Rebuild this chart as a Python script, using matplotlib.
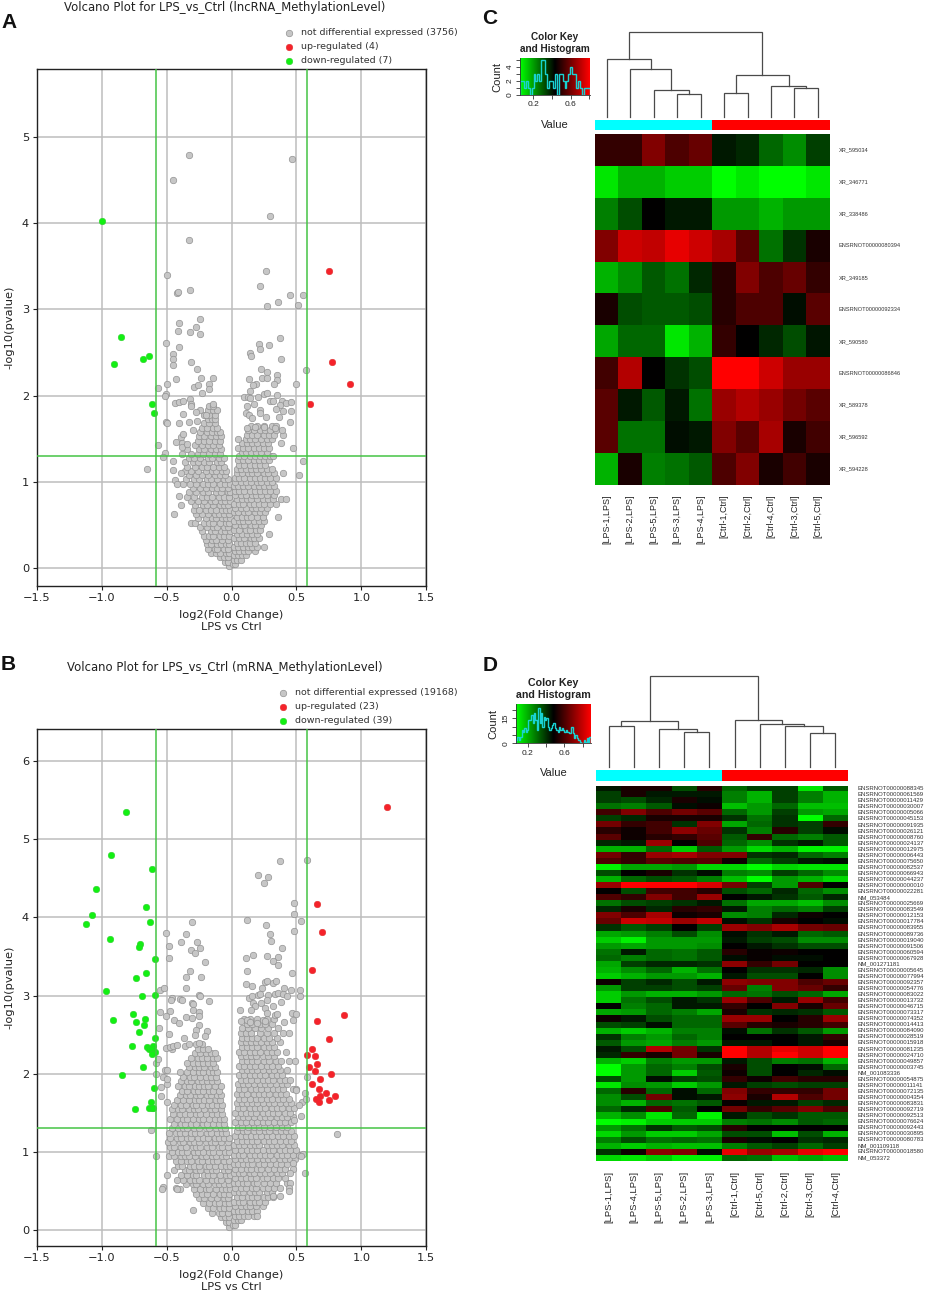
import numpy as np
import matplotlib
matplotlib.use('Agg')
import matplotlib.pyplot as plt
from matplotlib.colors import LinearSegmentedColormap

W, H = 927, 1295

# -----------------------------------------------------------------------------
# VOLCANO A
# -----------------------------------------------------------------------------
a_up_x = [.752, .773, .911, .603]
a_up_y = [3.45, 2.39, 2.135, 1.90]
a_down_x = [-.994, -.85, -.906, -.685, -.639, -.614, -.60]
a_down_y = [4.02, 2.68, 2.37, 2.42, 2.46, 1.90, 1.80]

a_sparse_x = [-.326, -.452, .467, .295, -.326, -.495, .262, .218, -.318, -.416, -.414, .452, .549, .359, .513, .275,
              -.241, -.408, -.275, -.413, -.323, -.241, -.503, -.406, -.454, -.447, -.452, -.311, -.264, -.234,
              -.141, -.424, -.50, -.565, -.288, -.257, -.175, -.177, -.226, -.506, -.513, -.318, -.311, -.313,
              -.434, -.406, -.375, -.141, -.241, -.275, -.377, -.2, -.331, -.267, -.508, -.493, -.406, -.293,
              -.39, -.37, -.565, -.424, -.385, -.383, -.345, -.513, -.524, -.454, -.652, -.454, -.39, -.436, -.416,
              -.408, -.388, -.439,
              .375, .208, .29, .223, .144, .149, .385, .575, .231, .27, .354, .131, .234, .27, .354, .326, .498,
              .19, .162, .146, .249, .277, .347, .098, .126, .205, .144, .295, .316, .39, .418, .462, .177, .123,
              .377, .22, .341, .40, .462, .218, .113, .131, .267, .157, .365, .452, .123, .18, .254, .334, .516, .395, .552]
a_sparse_y = [4.79, 4.50, 4.74, 4.08, 3.80, 3.40, 3.44, 3.27, 3.22, 3.19, 3.20, 3.17, 3.17, 3.08, 3.05, 3.04,
              2.89, 2.84, 2.80, 2.75, 2.74, 2.72, 2.61, 2.56, 2.48, 2.42, 2.35, 2.39, 2.31, 2.21,
              2.20, 2.19, 2.13, 2.09, 2.10, 2.12, 2.13, 2.08, 2.03, 2.02, 2.00, 1.96, 1.90, 1.88,
              1.92, 1.93, 1.94, 1.90, 1.84, 1.81, 1.79, 1.78, 1.70, 1.71, 1.69, 1.68, 1.68, 1.60,
              1.52, 1.56, 1.43, 1.46, 1.45, 1.41, 1.44, 1.34, 1.29, 1.24, 1.15, 1.14, 1.11, 1.02, .98,
              .84, .74, .63,
              2.67, 2.60, 2.59, 2.54, 2.49, 2.46, 2.42, 2.30, 2.31, 2.28, 2.24, 2.19, 2.20, 2.20, 2.18, 2.14, 2.14,
              2.14, 2.12, 2.06, 2.02, 2.03, 2.01, 1.98, 1.99, 1.98, 1.97, 1.94, 1.94, 1.94, 1.92, 1.93, 1.90, 1.88,
              1.89, 1.84, 1.85, 1.82, 1.82, 1.80, 1.80, 1.78, 1.75, 1.74, 1.75, 1.69, 1.63, 1.64, 1.64, 1.63, 1.08, 1.11, 1.24]

# dense part of the cloud: y and x in hundredths, row by row
a_rows_y = [3, 8, 13, 18, 23, 28, 33, 38, 43, 48, 53, 58, 63, 68, 73, 78, 83, 88, 93, 98, 103, 108, 113, 118, 123, 128,
            133, 138, 143, 148, 153, 158, 163, 168, 173, 178, 183, 188,
            5, 10, 15, 20, 25, 30, 35, 40, 45, 50, 55, 60, 65, 70, 75, 80, 85, 90, 95, 100, 105, 110, 115, 120, 125,
            130, 135, 140, 145, 150, 155, 160, 165]
a_rows_x = [
    [-2], [-5, -3], [-9, -6, -3], [-16, -12, -9, -4, -2], [-18, -13, -11, -6, -3], [-19, -16, -11, -8, -4, -2],
    [-20, -15, -12, -7, -3], [-21, -17, -14, -9, -6, -2], [-23, -16, -13, -8, -5, -1], [-24, -19, -14, -11, -6, -3],
    [-31, -28, -21, -17, -14, -9, -4, -2], [-26, -20, -15, -12, -7, -4, -1], [-27, -23, -18, -13, -10, -6, -2],
    [-29, -25, -20, -16, -12, -7, -4, -1], [-28, -22, -19, -14, -9, -6, -3], [-31, -26, -21, -16, -13, -8, -5, -1],
    [-34, -29, -23, -19, -15, -10, -6, -2], [-33, -27, -22, -18, -12, -8, -3, -1], [-30, -24, -20, -15, -11, -7, -3],
    [-37, -32, -27, -22, -18, -14, -9, -5, -1], [-35, -29, -25, -19, -16, -11, -6, -3], [-33, -27, -23, -18, -13, -9, -5],
    [-36, -31, -26, -20, -15, -12, -7, -4], [-34, -28, -23, -19, -14, -10, -6], [-36, -30, -26, -21, -17, -11, -8],
    [-33, -29, -24, -18, -15, -10, -6], [-38, -31, -26, -22, -17, -13, -9], [-34, -25, -21, -16, -12, -8],
    [-28, -23, -18, -14, -10], [-26, -21, -17, -13, -9], [-25, -21, -16, -12, -8], [-24, -19, -15, -11, -9],
    [-23, -19, -14, -11], [-21, -17, -13], [-18, -15, -13], [-21, -17, -13], [-18, -14, -11], [-17, -14],
    [1, 3], [2, 4, 7], [2, 5, 8, 11], [3, 6, 10, 13, 18], [2, 5, 9, 13, 16, 20, 25], [4, 7, 11, 14, 18],
    [2, 6, 10, 15, 17, 21], [4, 8, 12, 16, 20, 29], [2, 6, 11, 14, 19, 22], [3, 7, 10, 15, 18, 23],
    [2, 6, 9, 13, 17, 21, 25], [4, 8, 12, 15, 20, 24, 36], [2, 5, 10, 13, 18, 22, 26], [3, 7, 11, 16, 19, 23, 27],
    [2, 6, 9, 14, 17, 21, 25, 30, 34], [4, 8, 12, 15, 20, 24, 28, 32, 38, 42], [3, 7, 11, 16, 19, 23, 27, 33],
    [3, 6, 10, 14, 18, 22, 26, 30, 34], [2, 5, 9, 13, 17, 21, 25, 29, 33], [3, 7, 11, 15, 20, 23, 27, 31],
    [3, 6, 10, 14, 18, 22, 26, 30, 34], [4, 8, 13, 16, 20, 25, 28, 33], [4, 7, 11, 15, 19, 23, 27, 31],
    [6, 10, 14, 18, 22, 26], [5, 9, 13, 17, 21, 25, 29], [6, 10, 14, 18, 22, 26, 30, 32], [8, 11, 15, 19, 23, 27],
    [5, 9, 13, 17, 21, 25, 29, 47], [8, 12, 16, 20, 24, 28, 38], [5, 11, 14, 18, 23, 27, 31],
    [12, 16, 20, 25, 29, 33, 40], [13, 17, 22, 26, 30, 34, 39], [15, 20, 25, 31, 34]]

# -----------------------------------------------------------------------------
# VOLCANO B
# -----------------------------------------------------------------------------
b_up_x = [1.199, .655, .698, .619, .868, .657, .75, .621, .585, .642, .657, .598, .642, .763, .678, .619, .675, .724,
          .68, .798, .647, .75, .673]
b_up_y = [5.41, 4.17, 3.81, 3.33, 2.75, 2.67, 2.44, 2.32, 2.24, 2.22, 2.12, 2.08, 2.03, 1.99, 1.93, 1.86, 1.80, 1.75,
          1.71, 1.71, 1.67, 1.66, 1.63]
b_down_x = [-.814, -.929, -.611, -1.04, -.655, -1.073, -1.117, -.626, -.935, -.706, -.709, -.588, -.657, -.737,
            -.965, -.691, -.59, -.755, -.668, -.911, -.734, -.67, -.714, -.59, -.763, -.647, -.603, -.639, -.621,
            -.59, -.614, -.685, -.84, -.60, -.621, -.637, -.745, -.616, -.603]
b_down_y = [5.35, 4.80, 4.62, 4.37, 4.14, 4.03, 3.92, 3.94, 3.72, 3.66, 3.62, 3.47, 3.29, 3.22,
            3.06, 2.99, 3.01, 2.76, 2.70, 2.68, 2.66, 2.62, 2.53, 2.45, 2.35, 2.34, 2.35, 2.31, 2.32,
            2.27, 2.25, 2.09, 1.98, 1.82, 1.63, 1.56, 1.55, 1.56, 1.555]

b_sparse_x = [.37, .583, .205, .282, .252, .478, .483, .118, .539, .267, .48, .30, .303, .39, .11, .169, .272, .357,
              .321, .357, .118, .465,
              -.303, -.506, -.349, -.39, -.262, -.485, -.311, -.246, -.282, -.483, -.205, -.323, -.352, -.234,
              -.552, -.516, -.352, -.252, -.245, -.462, -.467, -.398, -.385, -.175, -.308, -.295, -.549, -.47, -.503,
              -.293, -.252, -.249, -.347, -.306, -.442, -.408, -.254, -.555, -.483, -.27, -.185, -.283, -.205, -.365,
              -.508, -.475, -.447, -.419, -.357, -.326, -.252,
              -.619, -.578, -.50, -.524, -.534, -.431, -.418, -.293,
              .108, .159, .236, .26, .277, .321, .34, .403, .462, .529, .334, .359, .398, .526, .424,
              .136, .159, .205, .223, .282, .38, .27, .321, .064, .167, .18, .154, .226, .257, .27,
              .467, .50, .336, .352, .47, .408, .077, .116, .146, .193, .244, .257,
              .811, .567, .537, .478, .565, .542, .521, .573, .58, .495, .552, .537, .475, .454, .454, .439, .439,
              .375, .323, .193,
              -.544, -.54, -.50, -.526, -.50, -.513, -.578, -.578, -.563, -.50, -.50]
b_sparse_y = [4.72, 4.74, 4.55, 4.52, 4.44, 4.18, 4.05, 3.97, 3.95, 3.90, 3.83, 3.79, 3.70, 3.61, 3.48, 3.52, 3.50, 3.49,
              3.44, 3.39, 3.32, 3.29,
              3.94, 3.80, 3.79, 3.69, 3.68, 3.63, 3.58, 3.61, 3.54, 3.48, 3.43, 3.32, 3.24, 3.24,
              3.07, 3.10, 3.10, 3.01, 3.00, 2.97, 2.94, 2.95, 2.94, 2.93, 2.91, 2.89, 2.79, 2.80, 2.74,
              2.81, 2.79, 2.74, 2.72, 2.71, 2.69, 2.65, 2.62, 2.59, 2.51, 2.56, 2.54, 2.49, 2.48, 2.45,
              2.33, 2.34, 2.35, 2.37, 2.35, 2.38, 2.39,
              1.28, .95, .70, .55, .52, .53, .52, .256,
              3.15, 3.12, 3.09, 3.17, 3.18, 3.16, 3.18, 3.10, 3.07, 3.07, 3.02, 3.03, 3.02, 3.0, 2.99,
              2.97, 3.0, 3.01, 3.02, 3.01, 2.92, 2.94, 2.87, 2.81, 2.90, 2.86, 2.82, 2.90, 2.84, 2.78,
              2.77, 2.76, 2.75, 2.76, 2.69, 2.66, 2.67, 2.69, 2.66, 2.65, 2.69, 2.67,
              1.23, .72, 1.46, 1.40, 1.75, 1.63, 1.60, 1.68, 1.96, 1.79, .97, .94, .86, .72, .60, .53, .49,
              .43, .43, .175,
              1.71, 1.83, 1.87, 1.96, 1.93, 2.05, 2.0, 2.14, 2.19, 2.04, 1.64]

b_rows_y = [4, 10, 16, 22, 28, 34, 40, 46, 52, 58, 64, 70, 76, 82, 88, 94, 100, 106, 112, 118, 124, 130, 136, 142, 148,
            154, 160, 166, 172, 178, 184, 190, 196, 202, 208, 214, 220, 226, 232, 238,
            6, 12, 18, 24, 30, 36, 42, 48, 54, 60, 66, 72, 78, 84, 90, 96, 102, 108, 114, 120, 126, 132, 138, 144, 150,
            156, 162, 168, 174, 180, 186, 192, 198, 204, 210, 216, 222, 228, 234, 240, 246, 252, 258, 264, 270]
b_rows_x = [
    [-2], [-4, -2], [-8, -5, -2], [-15, -10, -7, -3], [-18, -14, -9, -6, -2], [-22, -17, -13, -10, -5, -2],
    [-25, -21, -16, -11, -6, -3], [-27, -23, -19, -14, -9, -6, -2], [-40, -29, -24, -20, -17, -12, -7, -4, -1],
    [-35, -30, -27, -22, -18, -13, -10, -6, -2], [-42, -37, -32, -28, -25, -20, -15, -11, -8, -3],
    [-39, -34, -30, -27, -21, -18, -14, -9, -4, -1], [-44, -36, -33, -27, -24, -19, -15, -12, -6, -3],
    [-41, -38, -32, -29, -25, -20, -17, -13, -8, -4, -1], [-43, -39, -34, -31, -26, -23, -18, -14, -11, -6, -2],
    [-48, -44, -39, -36, -33, -28, -23, -20, -15, -12, -7, -4], [-46, -41, -38, -34, -29, -26, -22, -17, -14, -10, -5, -2],
    [-47, -44, -39, -35, -30, -27, -24, -19, -15, -10, -7, -3], [-49, -45, -40, -37, -32, -29, -25, -20, -16, -13, -8, -3],
    [-47, -42, -39, -34, -31, -26, -22, -18, -13, -10, -6, -2], [-48, -43, -40, -36, -31, -28, -24, -19, -16, -11, -7, -4],
    [-46, -41, -37, -34, -29, -25, -20, -17, -12, -8, -5], [-44, -39, -36, -31, -27, -22, -19, -14, -10, -6],
    [-47, -42, -37, -34, -30, -25, -22, -17, -13, -9, -6], [-45, -40, -36, -32, -27, -24, -20, -15, -11, -7],
    [-46, -41, -38, -33, -29, -26, -21, -16, -13, -8], [-44, -39, -35, -30, -27, -23, -18, -15, -11, -7],
    [-42, -37, -33, -28, -25, -21, -17, -12, -9], [-40, -35, -32, -27, -24, -19, -16, -11, -8],
    [-38, -34, -29, -26, -22, -17, -14, -10], [-41, -36, -33, -28, -25, -21, -18, -13, -8],
    [-39, -34, -31, -26, -23, -19, -15, -11], [-37, -32, -29, -24, -20, -16, -12], [-40, -34, -30, -25, -22, -17, -14, -11],
    [-33, -28, -25, -21, -16, -13], [-34, -30, -26, -22, -18, -14], [-31, -26, -23, -19, -14, -11], [-28, -24, -20, -16, -13],
    [-46, -26, -22, -18], [-27, -23],
    [1, 3], [2, 5, 7], [3, 6, 10, 13, 17], [2, 5, 8, 13, 16, 20], [3, 7, 11, 14, 19, 24], [2, 6, 9, 14, 18, 21, 26],
    [4, 8, 13, 16, 20, 25, 28, 32], [2, 6, 9, 14, 18, 21, 27, 31], [3, 7, 11, 16, 19, 24, 28, 33, 37],
    [2, 5, 9, 12, 17, 20, 25, 30, 34, 43], [3, 7, 11, 15, 19, 24, 27, 32, 36, 41], [2, 6, 9, 14, 17, 22, 26, 30, 35, 39],
    [3, 7, 12, 15, 20, 23, 28, 33, 37, 41, 47], [2, 5, 9, 13, 16, 21, 25, 30, 34, 38, 43],
    [3, 7, 11, 15, 20, 24, 28, 32, 37, 41, 45, 49], [2, 6, 9, 14, 18, 22, 26, 30, 35, 39, 43, 47, 52],
    [3, 7, 12, 16, 20, 24, 29, 32, 37, 41, 45, 50], [2, 6, 10, 14, 18, 21, 27, 31, 35, 39, 44, 48],
    [4, 8, 12, 16, 20, 25, 29, 33, 37, 42, 46], [3, 7, 11, 15, 19, 23, 27, 31, 36, 40, 44, 48],
    [4, 9, 12, 17, 21, 26, 29, 34, 38, 42, 46], [5, 8, 13, 17, 21, 25, 30, 34, 39, 43],
    [3, 7, 11, 16, 20, 24, 28, 33, 37, 41, 46], [5, 9, 13, 17, 22, 26, 30, 35, 39, 43, 47],
    [3, 7, 11, 15, 19, 24, 28, 32, 36, 41, 45], [5, 9, 14, 18, 22, 26, 31, 35, 39, 44, 48],
    [4, 8, 12, 16, 20, 24, 29, 33, 37, 42, 46], [6, 10, 14, 19, 23, 27, 31, 36, 40, 44],
    [4, 8, 12, 17, 21, 25, 29, 34, 38, 42], [6, 10, 15, 19, 23, 27, 32, 36, 40, 47, 50],
    [5, 9, 13, 17, 22, 26, 30, 34, 39, 43], [7, 11, 15, 20, 24, 28, 32, 37, 41, 45], [6, 10, 14, 18, 22, 26, 31, 35, 39],
    [8, 12, 16, 20, 24, 29, 33, 37, 43], [6, 10, 14, 18, 23, 27, 31, 36], [8, 12, 16, 20, 25, 29, 34, 38, 44, 49],
    [7, 11, 15, 19, 24, 28, 33], [6, 10, 14, 18, 22, 27, 31, 35, 42], [8, 12, 16, 20, 25, 29, 33],
    [7, 11, 15, 19, 23, 27, 31, 37], [8, 12, 16, 20, 25, 29, 35], [7, 11, 15, 22, 27, 33, 40, 44], [8, 13, 18, 23, 28, 36],
    [12, 16, 22, 26, 31], [10, 14, 20, 27, 33]]

# -----------------------------------------------------------------------------
# HEATMAP C  (-10 = full green, 0 = black, 10 = full red)
# -----------------------------------------------------------------------------
c_cols = ['[LPS-1,LPS]', '[LPS-2,LPS]', '[LPS-5,LPS]', '[LPS-3,LPS]', '[LPS-4,LPS]',
          '[Ctrl-1,Ctrl]', '[Ctrl-2,Ctrl]', '[Ctrl-4,Ctrl]', '[Ctrl-3,Ctrl]', '[Ctrl-5,Ctrl]']
c_rows = ['XR_595034', 'XR_346771', 'XR_338486', 'ENSRNOT00000080394', 'XR_349185', 'ENSRNOT00000092334',
          'XR_590580', 'ENSRNOT00000086846', 'XR_589378', 'XR_596592', 'XR_594228']
c_vals = [[2, 2, 5, 3, 4, -1, -1.5, -4, -5.5, -2.5],
          [-9, -7, -7, -8, -8, -10, -9, -10, -10, -9],
          [-5, -3, 0, -1, -1, -6, -6, -7, -6, -6],
          [5, 8, 7.5, 9, 8, 6.5, 3.5, -4.5, -2, 1],
          [-7, -5.5, -3.5, -4.5, -1.5, 1.5, 5, 3, 4, 2],
          [1, -3, -3.5, -3.5, -3, 1.5, 3, 3, -0.5, 3.5],
          [-6.5, -4, -4, -9, -7, 2, 0, -1.5, -3, -0.8],
          [2.5, 7, 0, -2, -3, 10, 10, 8, 6, 6],
          [3.5, -1, -3.5, -1, -4.5, 6, 7, 6, 4.5, 3.5],
          [3.5, -4.5, -4.5, -0.5, -1, 5, 3.5, 6.5, 1, 2.5],
          [-7, 1, -5, -4.5, -3.5, 3, 5, 1, 2.5, 1]]
c_hist = [2, 2, 1, 2, 1, 0, 1, 3, 2, 3, 2, 5, 5, 3, 1, 2, 2, 1, 3, 0, 3, 3, 2, 1, 2, 3, 4, 3, 3, 1, 2, 1, 0, 1, 1, 1]
# dendrogram merges: left node, right node, height (leaves 0-9, new nodes from 10 on)
c_merges = [(3, 4, 67), (2, 10, 81), (1, 11, 145), (0, 12, 173), (5, 6, 70), (8, 9, 86), (7, 15, 92), (14, 16, 126),
            (13, 17, 255)]

# -----------------------------------------------------------------------------
# HEATMAP D
# -----------------------------------------------------------------------------
d_cols = ['[LPS-1,LPS]', '[LPS-4,LPS]', '[LPS-5,LPS]', '[LPS-2,LPS]', '[LPS-3,LPS]',
          '[Ctrl-1,Ctrl]', '[Ctrl-5,Ctrl]', '[Ctrl-2,Ctrl]', '[Ctrl-3,Ctrl]', '[Ctrl-4,Ctrl]']
d_rows = ['ENSRNOT00000088345', 'ENSRNOT00000061569', 'ENSRNOT00000011429', 'ENSRNOT00000030007', 'ENSRNOT00000005066',
          'ENSRNOT00000045153', 'ENSRNOT00000091935', 'ENSRNOT00000026121', 'ENSRNOT00000008760', 'ENSRNOT00000024137',
          'ENSRNOT00000012975', 'ENSRNOT00000006443', 'ENSRNOT00000075650', 'ENSRNOT00000082537', 'ENSRNOT00000066943',
          'ENSRNOT00000044237', 'ENSRNOT00000000010', 'ENSRNOT00000022281', 'NM_053484', 'ENSRNOT00000025669',
          'ENSRNOT00000083549', 'ENSRNOT00000012153', 'ENSRNOT00000017784', 'ENSRNOT00000083955', 'ENSRNOT00000089736',
          'ENSRNOT00000019040', 'ENSRNOT00000091506', 'ENSRNOT00000060594', 'ENSRNOT00000067928', 'NM_001271181',
          'ENSRNOT00000005645', 'ENSRNOT00000077994', 'ENSRNOT00000092357', 'ENSRNOT00000054776', 'ENSRNOT00000083022',
          'ENSRNOT00000013732', 'ENSRNOT00000046715', 'ENSRNOT00000073317', 'ENSRNOT00000074352', 'ENSRNOT00000014413',
          'ENSRNOT00000084090', 'ENSRNOT00000028519', 'ENSRNOT00000015918', 'ENSRNOT00000081235', 'ENSRNOT00000024710',
          'ENSRNOT00000049857', 'ENSRNOT00000003745', 'NM_001083336', 'ENSRNOT00000054875', 'ENSRNOT00000011141',
          'ENSRNOT00000072135', 'ENSRNOT00000004354', 'ENSRNOT00000083831', 'ENSRNOT00000092719', 'ENSRNOT00000092513',
          'ENSRNOT00000076624', 'ENSRNOT00000092443', 'ENSRNOT00000030895', 'ENSRNOT00000080783', 'NM_001109118',
          'ENSRNOT00000018580', 'NM_053372']
d_vals = [[-1, 1, 1, -3, 1.5, -4, -2.5, -2.5, -9, -3.5],
          [-2.5, 1, -1, -1, -1, -5, -7, -2.5, -5, -7],
          [-2.5, -3, -1.5, 1, -0.5, -5, -7, -2.5, -5, -7],
          [-4.5, -5, -3.5, -0.5, 0.5, -7.5, -6, -4, -7.5, -7.5],
          [2.5, 5, 3, 4.5, 3.5, -4, -6, -2.5, -6, -6.5],
          [-2.5, -1.5, 1, 1, 1, -2, -4.5, -2, -10, -4],
          [4.5, 2, 2.5, -2, 5, -6.5, -4, -2, -2.5, 2],
          [1.5, 0.5, 2.5, 5.5, 4, -2, -5, 1.5, -2.5, -0.5],
          [3.5, 0.5, 1.5, 2, 3.5, -3.5, 2, -4, -5, -3.5],
          [-1.5, -1, 6, 0, 3, -4, -5.5, -2, -1, -3.5],
          [-7, -7, -4, -8, -3.5, -6, -8.5, -7, -9.5, -9.5],
          [4.5, 2, 6, 6.5, 5, 5, -2, -1.5, -4, -5],
          [3, 2, 3.5, 3, 3.5, 0.5, -4, -2.5, -1, -0.5],
          [-9.5, -6.5, -6.5, -6, -8.5, -8.5, -10, -8.5, -9, -9],
          [-3, 0, 1, -2, -0.5, -5, -5.5, -2.5, -4, -5.5],
          [-7, -4, -3, -3.5, -5, -7.5, -10, -6, -7, -8.5],
          [6, 10, 10, 10, 8.5, 4.5, -2.5, -6, 3, 0],
          [0, -3, 2.5, 2.5, 1.5, -3, -4, -1.5, -4, -5.5],
          [3, 2, 5, 2.5, 6, 0, -1, -2, -3.5, -1.5],
          [-4.5, -3, -2.5, -2, -1, -4.5, -6.5, -6.5, -7.5, -5.5],
          [-1.5, 1, -1.5, 1.5, 2, -1, -5, -4, -5, -2.5],
          [5, 3, 6.5, 0.5, 1, -5.5, -5, -1.5, 0.5, 0],
          [4, 8, 7.5, 6, 7.5, -0.5, -2, 1, 0, -0.5],
          [-2, -3.5, -2.5, 0, -2.5, 6, 5, 6.5, 4.5, 4],
          [-6.5, -6, -5, -3, -5.5, -0.5, -2, -1, -4, -3.5],
          [-8, -9.5, -6, -6, -6, -1, -2.5, -3, -5.5, -5.5],
          [-6, -6.5, -6, -6, -5.5, 0, -1, -2, -3, -3],
          [-4.5, -1, -4, -4.5, -3.5, 1.5, 0.3, 0.5, 0, 0],
          [-4, -5, -4, -4.5, -3.5, -0.5, 0.3, -0.5, -0.5, 0],
          [-6.5, -2.5, -1.5, -1.5, -2, 5.5, 2, 4.5, 0, 0],
          [-7, -5.5, -4, -7, -4.5, 0, -2, -2, -1.5, -5.5],
          [-8, -7, -6, -6, -7, -1, -3, -3, 0, -5.5],
          [0.5, -2.5, -1.5, -3, -1, 5.5, 5, 5, 3, 4],
          [-6, -2.5, -2.5, -3, -2.5, 4, -5, 5, 4, 2],
          [-8, -6, -7, -7, -6, -4, -4.5, -3, -4, -6.5],
          [-8, -4.5, -3, -1, -2, 6, 3, -1, 6, 2.5],
          [0, -5, -4, -1, -1, 2, 0, 5, 1, 4],
          [-6.5, -6, -4, -5, -6.5, 1, -2, -1.5, -2, -3.5],
          [0.5, -1, -3, -4, -4, 6, 6, 0, 1.5, 6],
          [-3, -2.5, -0.5, -4, -4, 3.5, 1.5, 1, 1.5, 2.5],
          [-7, -8, -7, -5, -5, -0.5, -4.5, -2, -3.5, -6],
          [-2, -5, -6, -4, -5, 0, 0, 0, -1, 2],
          [-3.5, -6, -6.5, -5, -6, -1, -1, 0, -1, 1],
          [-1, -3, 7, 4.5, -2, 10, 7, 9, 8, 10],
          [-1.5, 2, 1, 4.5, 1, 10, 7, 10, 8, 10],
          [-7, -8, -5, -6, -6, -1, -3, -5, -4.5, -7],
          [-10, -6, -4, -5, -3, 1, -3, 0, -0.5, -4],
          [-10, -6, -4, -8, -3.5, 0.5, -3, 0, -1.5, -0.5],
          [-3, -6, -0.5, -2.5, -3, 2, 0.5, 2.5, 1.5, 1.5],
          [-9, -5.5, -6, -8, -6, -1, -2.5, -3, -2.5, -2.5],
          [-4, 1.5, -4, -0.5, -4, 5, 2, 2, 2, 4.5],
          [-5.5, -3, 4.5, -0.5, -1, 5.5, 1, 7, 3, 4.5],
          [-5.5, -7, -4, -4.5, -3.5, 0.3, -1, -1, -2.5, -1.5],
          [-4, -1.5, 3, -3.5, 0, 4.5, 2, 3.5, 5, 3],
          [-7, -5.5, -9, -4, -9.5, -1, -3, -2, -3.5, -3.5],
          [-10, -9.5, -8, -8, -8, -5, -4.5, -5.5, -3.5, -4],
          [-6, -4.5, -2, -3.5, -3, 1.5, 0, 0, 0, 0],
          [-8.5, -6, -8, -8, -6.5, -3, -3, -7.5, -3, -7],
          [-5, -3, -4.5, -4, -4.5, 1, -0.5, 0, -2, -1.5],
          [-7, -8, -7, -7.5, -7.5, -5, -3.5, -2.5, -4, -2.5],
          [-2, 0.5, 5.5, 5, -0.5, 9, 6, 6.5, 9, 10],
          [-8.5, -9, -8, -9.5, -9.5, -4, -4.5, -7.5, -6.5, -7.5]]
d_hist = [2, 4, 2, 4, 8, 7, 9, 7, 8, 14, 14, 17, 12, 18, 14, 8, 21, 12, 18, 10, 16, 14, 15, 10, 8, 9, 11, 12, 9, 8, 7,
          10, 8, 9, 8, 7, 8, 7, 6, 6, 10, 6, 3, 5, 3, 2, 1, 0, 0, 2, 1, 3, 1, 4]
d_merges = [(0, 1, 121), (3, 4, 105), (2, 11, 113), (10, 12, 138), (8, 9, 101), (7, 14, 121), (6, 15, 129), (5, 16, 141),
            (13, 17, 273)]


GREEN_LINE = '#45c445'
HEAT_FONT = ['Liberation Sans', 'DejaVu Sans']
heat_cmap = LinearSegmentedColormap.from_list('gbr', ['#00ff00', '#000000', '#ff0000'])


def px_axes(fig, left, top, right, bottom, **kw):
    # axes placed by pixel edges, y counted from the top of the image
    return fig.add_axes([left / W, 1 - bottom / H, (right - left) / W, (bottom - top) / H], **kw)


def volcano(fig, box, ylim, yticks, title, title_y, rows_x, rows_y, sp_x, sp_y, up_x, up_y, dn_x, dn_y, names, leg_box):
    ax = px_axes(fig, *box)
    gray_x = np.concatenate([np.array(r) / 100 for r in rows_x] + [sp_x])
    gray_y = np.concatenate([np.full(len(r), y / 100) for r, y in zip(rows_x, rows_y)] + [sp_y])
    ax.scatter(gray_x, gray_y, s=22, c='#c6c6c6', edgecolors='#8c8c8c', linewidths=0.45, zorder=3, label=names[0])
    ax.scatter(up_x, up_y, s=22, c='#f5222a', edgecolors='#e03030', linewidths=0.4, zorder=4, label=names[1])
    ax.scatter(dn_x, dn_y, s=22, c='#12f012', edgecolors='#30d030', linewidths=0.4, zorder=4, label=names[2])
    ax.axvline(-0.585, color=GREEN_LINE, lw=1.1, zorder=5)
    ax.axvline(0.585, color=GREEN_LINE, lw=1.1, zorder=5)
    ax.axhline(1.3, color=GREEN_LINE, lw=1.1, zorder=5)
    ax.set_xlim(-1.5, 1.5)
    ax.set_ylim(*ylim)
    ax.set_xticks([-1.5, -1.0, -0.5, 0.0, 0.5, 1.0, 1.5])
    ax.set_yticks(yticks)
    ax.tick_params(labelsize=8.2, length=3, width=0.8, color='#222222', labelcolor='#222222', pad=2.5)
    ax.grid(True, color='#bdbdbd', lw=1.1, zorder=1)
    ax.set_axisbelow(True)
    for s in ax.spines.values():
        s.set_color('#222222')
        s.set_linewidth(1.0)
    ax.set_xlabel('log2(Fold Change)\nLPS vs Ctrl', fontsize=8.2, color='#222222', labelpad=4.5, linespacing=1.3)
    ax.set_ylabel('-log10(pvalue)', fontsize=8.2, color='#222222', labelpad=5)
    fig.text(225 / W, 1 - title_y / H, title, fontsize=8.4, ha='center', va='center', color='#222222')
    ax.legend(loc='lower left', bbox_to_anchor=leg_box, bbox_transform=fig.transFigure, frameon=False, fontsize=6.8,
              labelspacing=0.52, handletextpad=0.2, borderpad=0, borderaxespad=0, labelcolor='#333333')
    return ax


def heat_panel(fig, box, band, key_box, dend_box, vals, rows, cols, hist, merges, x_range, y_top, y_ticks, y_labeled,
               label_x, col_top, label_size, col_size, band_split=5):
    left, top, right, bottom = box
    vals = np.array(vals, dtype=float)
    ax = px_axes(fig, *box)
    ax.imshow(vals, cmap=heat_cmap, vmin=-10, vmax=10, aspect='auto', interpolation='nearest')
    ax.axis('off')
    n_rows, n_cols = vals.shape
    row_h = (bottom - top) / n_rows
    for i, name in enumerate(rows):
        fig.text(label_x / W, 1 - (top + (i + 0.5) * row_h) / H, name, fontsize=label_size, family=HEAT_FONT,
                 ha='left', va='center', color='#333333')
    col_w = (right - left) / n_cols
    for j, name in enumerate(cols):
        fig.text((left + (j + 0.5) * col_w) / W, 1 - col_top / H, name, fontsize=col_size, family=HEAT_FONT, rotation=90,
                 ha='center', va='top', color='#222222')

    # side colour band
    ax_b = px_axes(fig, left, band[0], right, band[1])
    ax_b.imshow([[0] * band_split + [1] * (n_cols - band_split)],
                cmap=LinearSegmentedColormap.from_list('cr', ['#00ffff', '#ff0000'], N=2), aspect='auto',
                interpolation='nearest')
    ax_b.axis('off')

    # dendrogram
    ax_d = px_axes(fig, left, dend_box[0], right, dend_box[1])
    ax_d.set_xlim(0, n_cols)
    ax_d.set_ylim(0, max(m[2] for m in merges))
    ax_d.axis('off')
    pos = {i: (i + 0.5, 0) for i in range(n_cols)}
    for k, (a, b, h) in enumerate(merges):
        xa, ya = pos[a]
        xb, yb = pos[b]
        ax_d.plot([xa, xa, xb, xb], [ya, h, h, yb], color='#4a4a4a', lw=0.9, clip_on=False, solid_joinstyle='miter')
        pos[n_cols + k] = ((xa + xb) / 2, h)

    # colour key with histogram
    ax_k = px_axes(fig, *key_box)
    ax_k.imshow(np.linspace(-1, 1, 256).reshape(1, -1), cmap=heat_cmap, aspect='auto',
                extent=[x_range[0], x_range[1], 0, y_top], zorder=1)
    edges = np.linspace(x_range[0], x_range[1], len(hist) + 1)
    ax_k.stairs(hist, edges, color='#19d3d3', lw=1.0, zorder=2)
    ax_k.set_xlim(*x_range)
    ax_k.set_ylim(0, y_top)
    ax_k.set_xticks([0.2, 0.4, 0.6, 0.8])
    ax_k.set_xticklabels(['0.2', '', '0.6', ''], fontsize=6, family=HEAT_FONT, color='#222222')
    ax_k.set_yticks(y_ticks)
    ax_k.set_yticklabels([str(t) if t in y_labeled else '' for t in y_ticks], fontsize=6, family=HEAT_FONT,
                         rotation=90, va='center', color='#222222')
    ax_k.tick_params(length=3, width=0.6, color='#333333', pad=1.5)
    for name, s in ax_k.spines.items():
        s.set_visible(name in ('left', 'bottom'))
        s.set_linewidth(0.6)
        s.set_color('#333333')
    kx0, ky0, kx1, ky1 = key_box
    kc = (kx0 + kx1) / 2
    fig.text(kc / W, 1 - (ky0 - 4) / H, 'Color Key\nand Histogram', fontsize=(kx1 - kx0) * 0.103, fontweight='bold',
             family=HEAT_FONT, ha='center', va='bottom', linespacing=1.35, color='#222222')
    fig.text(kc / W, 1 - (ky1 + 30) / H, 'Value', fontsize=8, family=HEAT_FONT, ha='center', va='center',
             color='#222222')
    fig.text((kx0 - 23) / W, 1 - (ky0 + ky1) / 2 / H, 'Count', fontsize=8, family=HEAT_FONT, rotation=90, ha='center',
             va='center', color='#222222')


fig = plt.figure(figsize=(W / 100, H / 100), dpi=100)

legend_a = ['not differential expressed (3756)', 'up-regulated (4)', 'down-regulated (7)']
legend_b = ['not differential expressed (19168)', 'up-regulated (23)', 'down-regulated (39)']

volcano(fig, (36.7, 69.3, 426.3, 585.7), (-0.2, 5.78), [0, 1, 2, 3, 4, 5],
        'Volcano Plot for LPS_vs_Ctrl (lncRNA_MethylationLevel)', 7, a_rows_x, a_rows_y, a_sparse_x, a_sparse_y,
        a_up_x, a_up_y, a_down_x, a_down_y, legend_a, (280 / W, 1 - 65 / H))
volcano(fig, (36.7, 729.3, 426.3, 1245.7), (-0.205, 6.41), [0, 1, 2, 3, 4, 5, 6],
        'Volcano Plot for LPS_vs_Ctrl (mRNA_MethylationLevel)', 667, b_rows_x, b_rows_y, b_sparse_x, b_sparse_y,
        b_up_x, b_up_y, b_down_x, b_down_y, legend_b, (274 / W, 1 - 725 / H))

heat_panel(fig, (595, 134.3, 829.7, 484.7), (120, 129.7), (520, 58.3, 589.7, 95), (32, 116.7), c_vals, c_rows, c_cols,
           c_hist, c_merges, (0.057, 0.804), 5.24, [0, 1, 2, 3, 4, 5], [0, 2, 4], 838.5, 494, 4.1, 6.5)
heat_panel(fig, (596, 785.7, 848, 1161), (770.3, 781), (516, 704.3, 590.7, 743.3), (675.7, 766.7), d_vals, d_rows,
           d_cols, d_hist, d_merges, (0.068, 0.89), 23.4, [0, 5, 10, 15, 20], [0, 15], 858, 1171, 4.3, 6.8)

for letter, lx, ly in [('A', 9, 23), ('B', 8, 665), ('C', 490, 19), ('D', 490, 666)]:
    fig.text(lx / W, 1 - ly / H, letter, fontsize=15, fontweight='bold', family=HEAT_FONT, ha='center', va='center',
             color='#111111')

fig.savefig('out.png', dpi=100)
